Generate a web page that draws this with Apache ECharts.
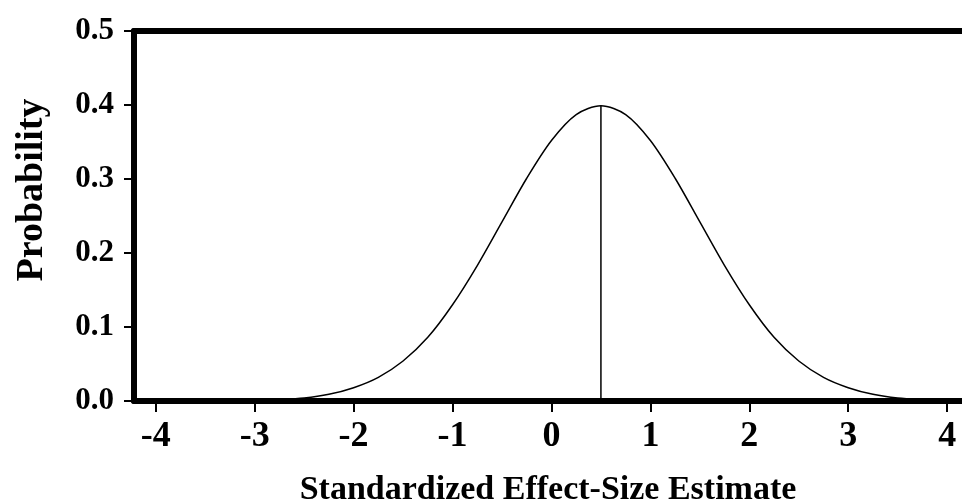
<!DOCTYPE html>
<html>
<head>
<meta charset="utf-8">
<script src="https://cdn.jsdelivr.net/npm/echarts@6/dist/echarts.min.js"></script>
<style>
  html, body { margin: 0; padding: 0; background: #fff; }
  #chart { width: 962px; height: 502px; }
</style>
</head>
<body>
<div id="chart"></div>
<script>
// effect size estimate (x) and probability (y)
var effectSizes = [-4, -3.75, -3.5, -3.25, -3, -2.75, -2.5, -2.25, -2, -1.75, -1.5, -1.25, -1, -0.75, -0.5, -0.25,
  0, 0.25, 0.5, 0.75, 1, 1.25, 1.5, 1.75, 2, 2.25, 2.5, 2.75, 3, 3.25, 3.5, 3.75, 4];
var probabilities = [0.000, 0.000, 0.000, 0.000, 0.001, 0.002, 0.004, 0.009, 0.018, 0.032, 0.054, 0.086, 0.130, 0.183,
  0.242, 0.301, 0.352, 0.387, 0.399, 0.387, 0.352, 0.301, 0.242, 0.183, 0.130, 0.086, 0.054, 0.032, 0.018, 0.009,
  0.004, 0.002, 0.001];
// vertical line at the estimate
var estimateX = [0.5, 0.5];
var estimateY = [0, 0.399];
var xTicks = [-4, -3, -2, -1, 0, 1, 2, 3, 4];

var font = 'Liberation Serif';

(function () {
  var myChart = echarts.init(document.getElementById('chart'));

  var curve = effectSizes.map(function (x, i) { return [x, probabilities[i]]; });
  var estimate = estimateX.map(function (x, i) { return [x, estimateY[i]]; });

  var option = {
    animation: false,
    grid: { left: 134, right: 0, top: 31, bottom: 101, outerBoundsMode: 'none' },
    xAxis: [{
      type: 'value',
      min: -4.22,
      max: 4.15,
      name: 'Standardized Effect-Size Estimate',
      nameLocation: 'middle',
      nameGap: 72,
      nameTextStyle: { fontFamily: font, fontWeight: 'bold', fontSize: 34, color: '#000' },
      splitLine: { show: false },
      axisLine: { lineStyle: { color: '#000', width: 6 } },
      axisTick: { customValues: xTicks, length: 11, lineStyle: { color: '#000', width: 2 } },
      axisLabel: {
        customValues: xTicks, margin: 18,
        fontFamily: font, fontWeight: 'bold', fontSize: 36, color: '#000'
      }
    }, {
      type: 'value',
      position: 'top',
      min: -4.22,
      max: 4.15,
      splitLine: { show: false },
      axisLine: { lineStyle: { color: '#000', width: 6 } },
      axisTick: { show: false },
      axisLabel: { show: false }
    }],
    yAxis: {
      type: 'value',
      min: 0,
      max: 0.5,
      interval: 0.1,
      name: 'Probability',
      nameLocation: 'middle',
      nameGap: 83,
      nameTextStyle: { fontFamily: font, fontWeight: 'bold', fontSize: 38, color: '#000', padding: [0, 0, 0, 52] },
      splitLine: { show: false },
      axisLine: { show: true, onZero: false, lineStyle: { color: '#000', width: 6 } },
      axisTick: { show: true, length: 10, lineStyle: { color: '#000', width: 2 } },
      axisLabel: {
        margin: 20,
        formatter: function (v) { return v.toFixed(1); },
        fontFamily: font, fontWeight: 'bold', fontSize: 31, color: '#000'
      }
    },
    series: [{
      type: 'line',
      data: curve,
      smooth: 0.3,
      showSymbol: false,
      lineStyle: { color: '#000', width: 1.5 },
      z: 3
    }, {
      type: 'line',
      data: estimate,
      showSymbol: false,
      lineStyle: { color: '#000', width: 1.5 },
      z: 3
    }]
  };

  myChart.setOption(option);
})();
</script>
</body>
</html>
